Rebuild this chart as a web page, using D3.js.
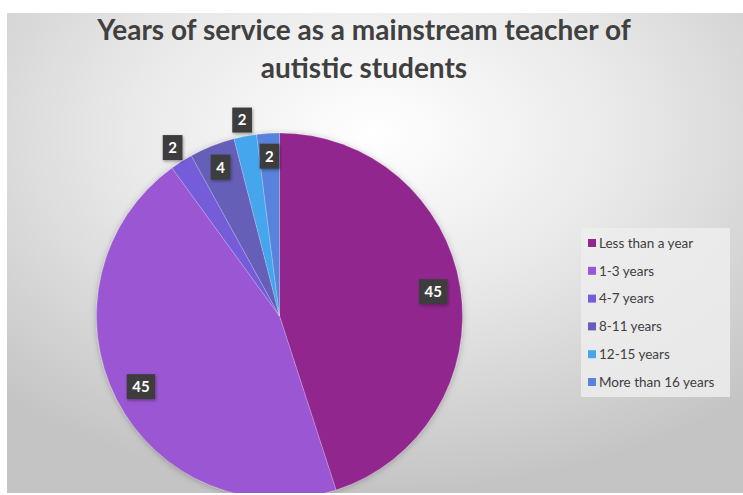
<!DOCTYPE html>
<html>
<head>
<meta charset="utf-8">
<script src="https://cdn.jsdelivr.net/npm/d3@7"></script>
<style>
  html, body { margin: 0; padding: 0; background: #ffffff; }
  svg { display: block; }
</style>
</head>
<body>
<svg id="chart" width="743" height="495"></svg>
<script>
// Survey answers: years of service as a mainstream teacher of autistic students
const categories = ["Less than a year", "1-3 years", "4-7 years", "8-11 years", "12-15 years", "More than 16 years"];
const counts = [45, 45, 2, 4, 2, 2];
const sliceColors = ["#92278F", "#9B57D3", "#755DD9", "#665EB8", "#45A5ED", "#5982DB"];
const titleLines = ["Years of service as a mainstream teacher of", "autistic students"];

const W = 743, H = 495;
const svg = d3.select("#chart");
const defs = svg.append("defs");

// soft grey radial backdrop
const bg = defs.append("radialGradient").attr("id", "bgGrad")
  .attr("cx", "50%").attr("cy", "25%").attr("r", "75%");
bg.append("stop").attr("offset", "0%").attr("stop-color", "#ffffff");
bg.append("stop").attr("offset", "45%").attr("stop-color", "#e9e9e9");
bg.append("stop").attr("offset", "100%").attr("stop-color", "#c4c4c4");

const shadow = defs.append("filter").attr("id", "softShadow")
  .attr("x", "-20%").attr("y", "-20%").attr("width", "140%").attr("height", "140%");
shadow.append("feDropShadow").attr("dx", 0).attr("dy", 1).attr("stdDeviation", 3)
  .attr("flood-color", "#000").attr("flood-opacity", 0.25);

const boxShadow = defs.append("filter").attr("id", "boxShadow")
  .attr("x", "-30%").attr("y", "-30%").attr("width", "160%").attr("height", "160%");
boxShadow.append("feDropShadow").attr("dx", 1).attr("dy", 1.5).attr("stdDeviation", 1.5)
  .attr("flood-color", "#000").attr("flood-opacity", 0.35);

const area = { x: 7, y: 13, w: W - 7, h: 480 };
svg.append("clipPath").attr("id", "areaClip").append("rect")
  .attr("x", area.x).attr("y", area.y).attr("width", area.w).attr("height", area.h);

svg.append("rect")
  .attr("x", area.x).attr("y", area.y).attr("width", area.w).attr("height", area.h)
  .attr("fill", "url(#bgGrad)");

const plot = svg.append("g").attr("clip-path", "url(#areaClip)");

// title
const title = svg.append("text")
  .attr("text-anchor", "middle")
  .attr("font-family", "Lato, 'Open Sans', sans-serif")
  .attr("font-weight", "bold")
  .attr("font-size", 28)
  .attr("fill", "#404040");
titleLines.forEach((line, i) => {
  title.append("tspan").attr("x", 364).attr("y", 40 + i * 38).text(line);
});

// pie
const cx = 279.5, cy = 316, R = 183;
const pie = d3.pie().sort(null).value(d => d.value);
const data = categories.map((c, i) => ({ name: c, value: counts[i], color: sliceColors[i] }));
const arcs = pie(data);
const arc = d3.arc().innerRadius(0).outerRadius(R);

const pieG = plot.append("g").attr("transform", `translate(${cx},${cy})`);
pieG.append("g").attr("filter", "url(#softShadow)")
  .selectAll("path").data(arcs).join("path")
  .attr("d", arc)
  .attr("fill", d => d.data.color)
  .attr("stroke", "rgba(255,255,255,0.35)")
  .attr("stroke-width", 0.6);

// data labels: large slices inside; thin slices alternate outside/inside to stay clear
const total = d3.sum(counts);
function labelRadius(d, i) {
  if (d.data.value / total >= 0.05) return R * 0.85;
  return i % 2 === 0 ? R * 1.09 : R * 0.875;
}
const labels = pieG.append("g").selectAll("g").data(arcs).join("g")
  .attr("transform", (d, i) => {
    const a = (d.startAngle + d.endAngle) / 2;
    const r = labelRadius(d, i);
    return `translate(${r * Math.sin(a)},${-r * Math.cos(a)})`;
  });
labels.each(function(d) {
  const g = d3.select(this);
  const t = g.append("text")
    .attr("text-anchor", "middle")
    .attr("dy", "0.36em")
    .attr("font-family", "Lato, 'Open Sans', sans-serif")
    .attr("font-weight", "bold")
    .attr("font-size", 15)
    .attr("fill", "#ffffff")
    .text(d.data.value);
  const w = t.node().getComputedTextLength() + 11;
  const h = 25;
  g.insert("rect", "text")
    .attr("x", -w / 2).attr("y", -h / 2)
    .attr("width", w).attr("height", h)
    .attr("fill", "#3d3d3d")
    .attr("filter", "url(#boxShadow)");
});

// legend
const lg = svg.append("g");
lg.append("rect")
  .attr("x", 581).attr("y", 228).attr("width", 149).attr("height", 169)
  .attr("fill", "#ededed").attr("fill-opacity", 0.85);
const legendY = d3.scalePoint().domain(categories).range([243, 382]);
const items = lg.selectAll("g.item").data(data).join("g").attr("class", "item")
  .attr("transform", d => `translate(588,${legendY(d.name)})`);
items.append("rect")
  .attr("x", 0).attr("y", -4).attr("width", 8).attr("height", 8)
  .attr("fill", d => d.color);
items.append("text")
  .attr("x", 11).attr("dy", "0.35em")
  .attr("font-family", "Lato, 'Open Sans', sans-serif")
  .attr("font-size", 13.5)
  .attr("fill", "#404040")
  .text(d => d.name);
</script>
</body>
</html>
